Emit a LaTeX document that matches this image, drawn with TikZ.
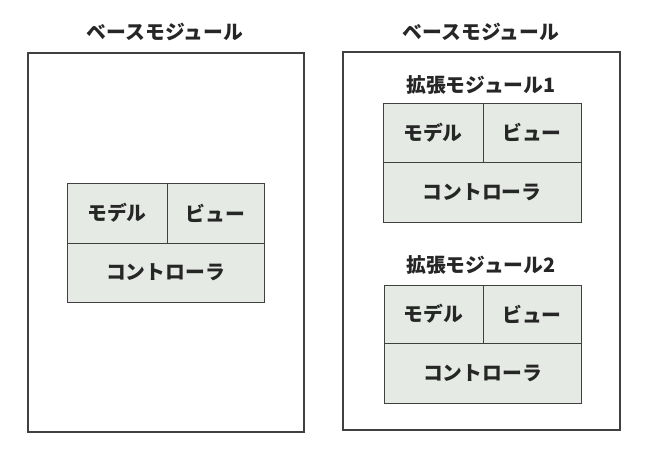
\documentclass[tikz,border=0pt]{standalone}
\usepackage{fontspec}
\newfontfamily\jp{Noto Sans CJK JP}
\begin{document}
\begin{tikzpicture}[x=1pt,y=-1pt,
  outer/.style={draw=black!75,line width=1.1pt},
  cell/.style={draw=black!75,line width=0.9pt,fill=mvcfill,inner sep=0pt},
  lbl/.style={font=\jp\bfseries\fontsize{19.8}{21}\selectfont,text=black!85,inner sep=0pt},
  ttl/.style={font=\jp\bfseries\fontsize{19.8}{21}\selectfont,text=black!85,inner sep=0pt}]
\definecolor{mvcfill}{HTML}{E5EAE5}
\useasboundingbox (0,0) rectangle (653,463);
% left base module
\node[ttl] (t1) at (165,32) {ベースモジュール};
\draw[outer] (28,53) rectangle (304,432);
\draw[cell] (67,183) rectangle (264,302);
\draw[black!75,line width=0.9pt] (67,243) -- (264,243) (167,183) -- (167,243);
\node[lbl] (m1) at (117,213) {モデル};
\node[lbl] (v1) at (215.5,213) {ビュー};
\node[lbl] (c1) at (165.5,272.5) {コントローラ};
% right base module
\node[ttl] (t2) at (481,32) {ベースモジュール};
\draw[outer] (343,52) rectangle (620,430);
% extension 1
\node[ttl] (e1) at (481,85) {拡張モジュール1};
\draw[cell] (383,103) rectangle (581,222);
\draw[black!75,line width=0.9pt] (383,162) -- (581,162) (483,103) -- (483,162);
\node[lbl] (m2) at (433,132.5) {モデル};
\node[lbl] (v2) at (532,132.5) {ビュー};
\node[lbl] (c2) at (482,192) {コントローラ};
% extension 2
\node[ttl] (e2) at (481,265) {拡張モジュール2};
\draw[cell] (384,285) rectangle (581,403);
\draw[black!75,line width=0.9pt] (384,343) -- (581,343) (483,285) -- (483,343);
\node[lbl] (m3) at (433.5,314) {モデル};
\node[lbl] (v3) at (532,314) {ビュー};
\node[lbl] (c3) at (482.5,373) {コントローラ};
\end{tikzpicture}
\end{document}
